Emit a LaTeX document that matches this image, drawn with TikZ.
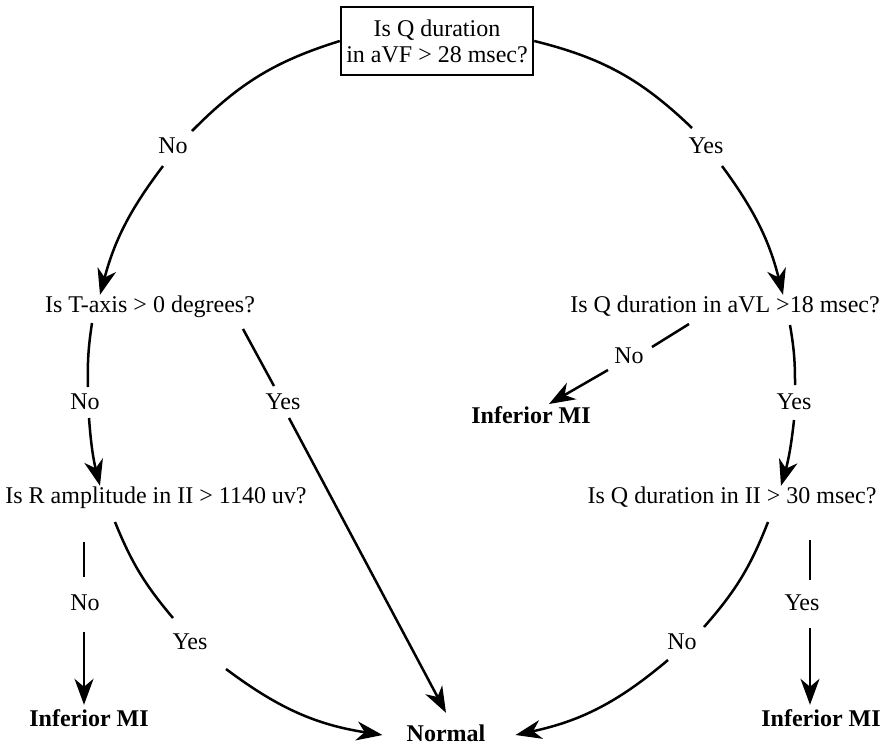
\documentclass[tikz,border=0pt]{standalone}
\usepackage{fontspec}
\setmainfont{Liberation Serif}
\usetikzlibrary{arrows.meta}
\begin{document}
\begin{tikzpicture}[x=1pt,y=-1pt,
  tx/.style={font=\fontsize{24}{26}\selectfont, inner sep=0pt, text height=17pt, text depth=5pt},
  res/.style={tx, font=\fontsize{24}{26}\selectfont\bfseries},
  qbox/.style={draw, line width=2.4pt, align=center, font=\fontsize{24}{26}\selectfont, minimum width=192pt, minimum height=68pt, inner sep=3pt},
  con/.style={line width=2.5pt},
  arr/.style={con, -{Stealth[length=26pt,width=19pt,inset=8pt]}}]
\useasboundingbox (0,0) rectangle (886,747);
% nodes
\node[qbox] (top) at (437,41) {Is Q duration\\in aVF > 28 msec?};
\node[tx] (ta) at (150,306) {Is T-axis > 0 degrees?};
\node[tx] (qavl) at (725,306) {Is Q duration in aVL >18 msec?};
\node[tx] (ra) at (156,497) {Is R amplitude in II > 1140 uv?};
\node[tx] (qii) at (732,497) {Is Q duration in II > 30 msec?};
\node[tx] (noA) at (173,147) {No};
\node[tx] (yesA) at (706,147) {Yes};
\node[tx] (noB) at (85,403) {No};
\node[tx] (yesB) at (283,403) {Yes};
\node[tx] (noC) at (629,357) {No};
\node[res] (infC) at (531,417) {Inferior MI};
\node[tx] (yesC) at (794,403) {Yes};
\node[tx] (noD) at (85,604) {No};
\node[tx] (yesD) at (190,643) {Yes};
\node[res] (infL) at (89,720) {Inferior MI};
\node[res] (normal) at (446,735) {Normal};
\node[tx] (noE) at (682,643) {No};
\node[tx] (yesE) at (802,604) {Yes};
\node[res] (infR) at (821,720) {Inferior MI};
% gap coordinates
\coordinate (a1) at (192,131); \coordinate (a2) at (163,166);
\coordinate (b1) at (92,323);  \coordinate (b2) at (88,387);  \coordinate (b3) at (89,418);
\coordinate (d1) at (115,522); \coordinate (d2) at (173,618); \coordinate (d3) at (226,669);
\coordinate (t1) at (243,329); \coordinate (t2) at (274,386); \coordinate (t3) at (289,418);
\coordinate (v1) at (689,324); \coordinate (v2) at (652,347); \coordinate (v3) at (608,370);
\coordinate (vtip) at (549,404);
\coordinate (r1) at (84,542);  \coordinate (r2) at (84,577);  \coordinate (r3) at (84,632);
\coordinate (e1) at (692,128); \coordinate (e2) at (722,166);
\coordinate (f1) at (790,325); \coordinate (f2) at (795,385); \coordinate (f3) at (794,420);
\coordinate (g1) at (768,522); \coordinate (g2) at (704,627); \coordinate (g3) at (668,660);
\coordinate (h1) at (810,540); \coordinate (h2) at (810,580); \coordinate (h3) at (810,628);
% left arc
\draw[con] (top.west) to[bend right=14] (a1);
\draw[arr] (a2) to[bend right=11] ([xshift=-50pt]ta.north);
\draw[con] (b1) to[bend right=5] (b2);
\draw[arr] (b3) to[bend right=5] ([xshift=-56pt]ra.north);
\draw[con] (d1) to[bend right=9] (d2);
\draw[arr] (d3) to[bend right=14] ([xshift=-24pt]normal.west);
% T-axis yes
\draw[con] (t1) -- (t2);
\draw[arr] (t3) -- ([yshift=11pt]normal.north);
% R no
\draw[con] (r1) -- (r2);
\draw[arr] (r3) -- ([xshift=-5pt,yshift=4pt]infL.north);
% right arc
\draw[con] (top.east) to[bend left=15] (e1);
\draw[arr] (e2) to[bend left=11] ([xshift=58pt]qavl.north);
\draw[con] (f1) to[bend left=5] (f2);
\draw[arr] (f3) to[bend left=5] ([xshift=49pt]qii.north);
\draw[con] (g1) to[bend left=10] (g2);
\draw[arr] (g3) to[bend left=14] ([xshift=30pt]normal.east);
% aVL no
\draw[con] (v1) -- (v2);
\draw[arr] (v3) -- (vtip);
% Q II yes
\draw[con] (h1) -- (h2);
\draw[arr] (h3) -- ([xshift=-11pt,yshift=4pt]infR.north);
\end{tikzpicture}
\end{document}
